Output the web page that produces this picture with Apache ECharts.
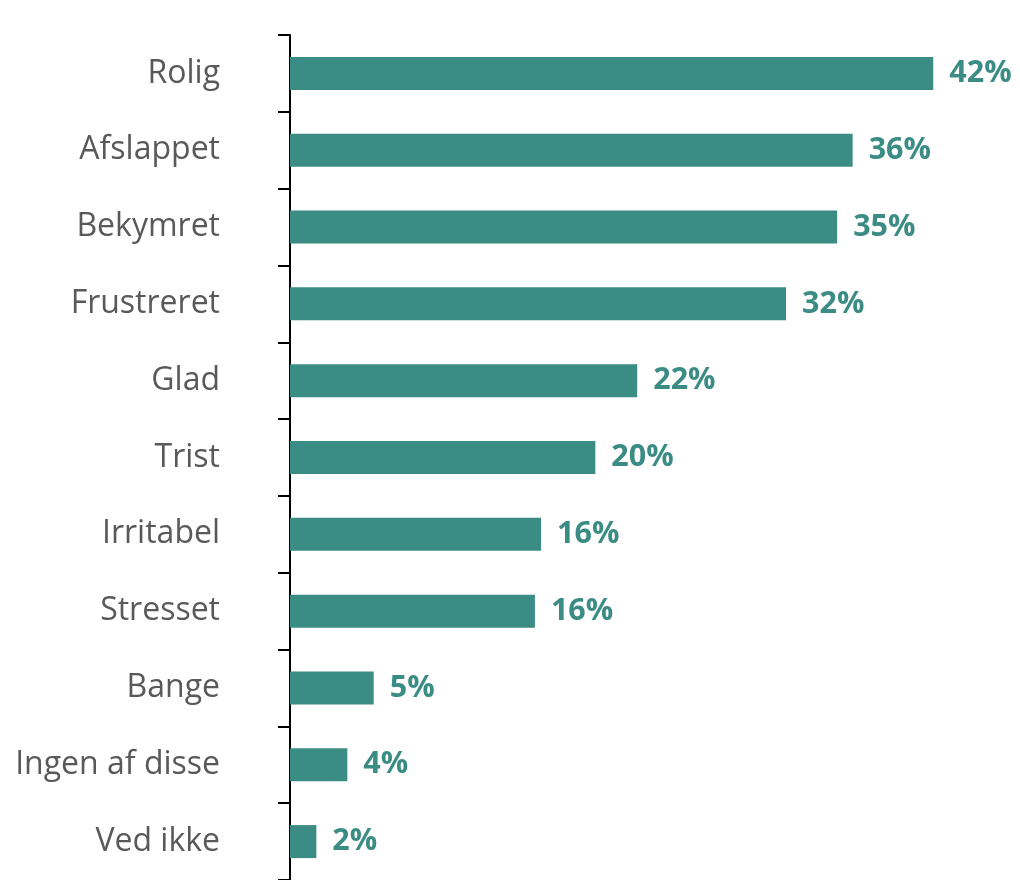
<!DOCTYPE html>
<html>
<head>
<meta charset="utf-8">
<script src="https://cdn.jsdelivr.net/npm/echarts@6/dist/echarts.min.js"></script>
<style>
html,body{margin:0;padding:0;background:#fff;}
#chart{width:1020px;height:880px;}
</style>
</head>
<body>
<div id="chart"></div>
<script>
var categories = ['Rolig','Afslappet','Bekymret','Frustreret','Glad','Trist','Irritabel','Stresset','Bange','Ingen af disse','Ved ikke'];
var values = [41.5, 36.3, 35.3, 32.0, 22.4, 19.7, 16.2, 15.8, 5.4, 3.7, 1.7];

var teal = '#3A8C85';
var chart = echarts.init(document.getElementById('chart'), null, {renderer:'canvas'});
chart.setOption({
  animation: false,
  backgroundColor: '#ffffff',
  grid: {left: 290, top: 35, bottom: -2, right: 32.5, containLabel: false},
  xAxis: {
    type: 'value', min: 0, max: 45,
    show: false,
    splitLine: {show: false}
  },
  yAxis: {
    type: 'category',
    data: categories,
    inverse: true,
    axisLine: {show: true, lineStyle: {color: '#000000', width: 2}},
    axisTick: {show: true, length: 12, lineStyle: {color: '#000000', width: 2}},
    axisLabel: {
      margin: 70,
      fontFamily: 'Open Sans',
      fontSize: 32,
      color: '#595959',
      padding: [5, 0, 0, 0]
    }
  },
  series: [{
    type: 'bar',
    data: values,
    barWidth: 33,
    itemStyle: {color: teal},
    label: {
      show: true,
      position: 'right',
      distance: 16,
      fontFamily: 'Open Sans',
      fontWeight: 'bold',
      fontSize: 30.5,
      color: teal,
      padding: [5, 0, 0, 0],
      formatter: function(p){ return Math.round(p.value) + '%'; }
    }
  }]
});
</script>
</body>
</html>
